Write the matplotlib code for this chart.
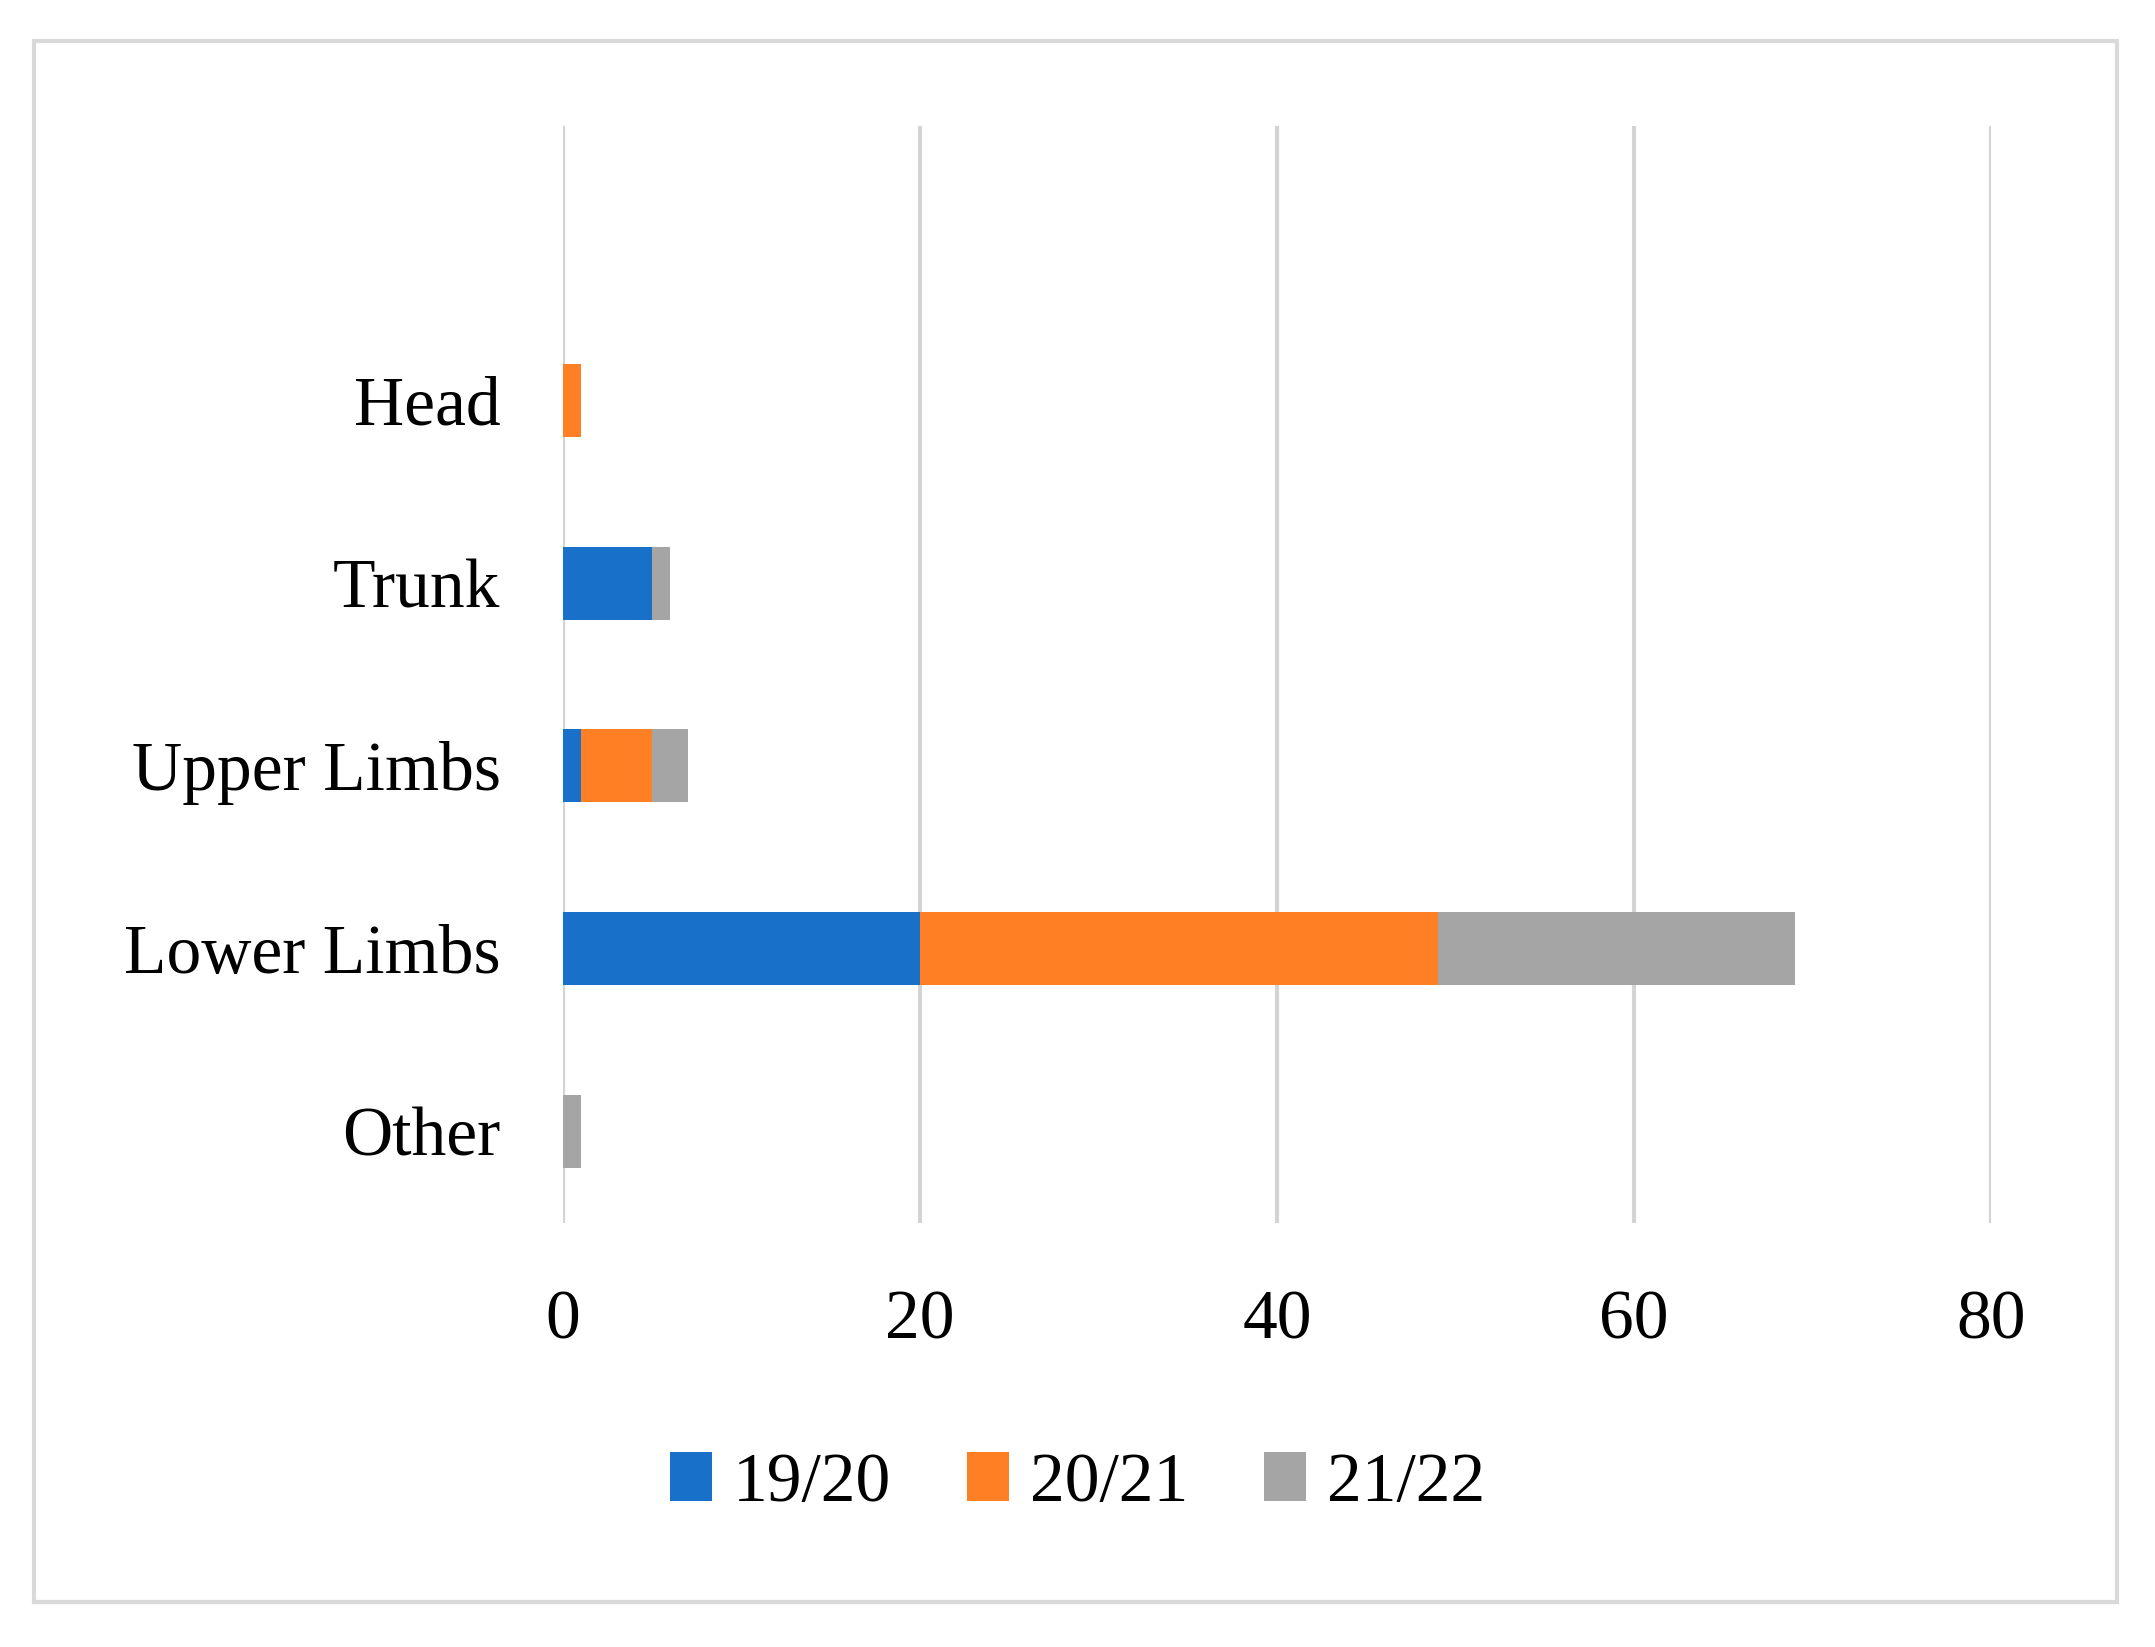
import numpy as np
import matplotlib
matplotlib.use("Agg")
import matplotlib.pyplot as plt
from matplotlib.patches import Rectangle

# data, bottom to top (top slot left empty like the original)
CATEGORIES = ["Other", "Lower Limbs", "Upper Limbs", "Trunk", "Head", ""]
SEASONS    = ["19/20", "20/21", "21/22"]
S1920      = [0, 20, 1, 5, 0, 0]
S2021      = [0, 29, 4, 0, 1, 0]
S2122      = [1, 20, 2, 1, 0, 0]
XTICKS     = [0, 20, 40, 60, 80]
COLORS     = ["#1870C8", "#FF7F24", "#A5A5A5"]

plt.rcParams["font.family"] = ["Liberation Serif", "DejaVu Serif"]

W, H = 2155, 1647
fig = plt.figure(figsize=(W / 100, H / 100), dpi=100)
ax = fig.add_axes([563 / W, 1 - 1223 / H, (1991 - 563) / W, (1223 - 126) / H])

y = np.arange(len(CATEGORIES))
left = np.zeros(len(CATEGORIES))
for vals, lab, col in zip([S1920, S2021, S2122], SEASONS, COLORS):
    vals = np.array(vals, dtype=float)
    ax.barh(y, vals, height=0.4, left=left, color=col, label=lab, zorder=3)
    left += vals

ax.set_xlim(0, 80)
ax.set_ylim(-0.5, len(CATEGORIES) - 0.5)
ax.set_xticks(XTICKS)
ax.set_yticks(y)
ax.set_yticklabels(CATEGORIES)
ax.tick_params(axis="both", length=0, labelsize=50, colors="black")
ax.tick_params(axis="x", pad=48)
ax.tick_params(axis="y", pad=45)
ax.grid(axis="x", color="#d4d4d4", linewidth=3, zorder=0)
for s in ax.spines.values():
    s.set_visible(False)

fig.legend(loc="center", bbox_to_anchor=(0.5, 1 - 1484 / H), ncol=3,
           frameon=False, fontsize=50, handlelength=0.6, handleheight=0.7,
           handletextpad=0.3, columnspacing=1.1)

# outer frame
fig.patches.append(Rectangle((34 / W, 1 - 1602 / H), (2117 - 34) / W, (1602 - 41) / H,
                             transform=fig.transFigure, fill=False,
                             edgecolor="#d9d9d9", linewidth=3))

fig.savefig("out.png", dpi=100)
